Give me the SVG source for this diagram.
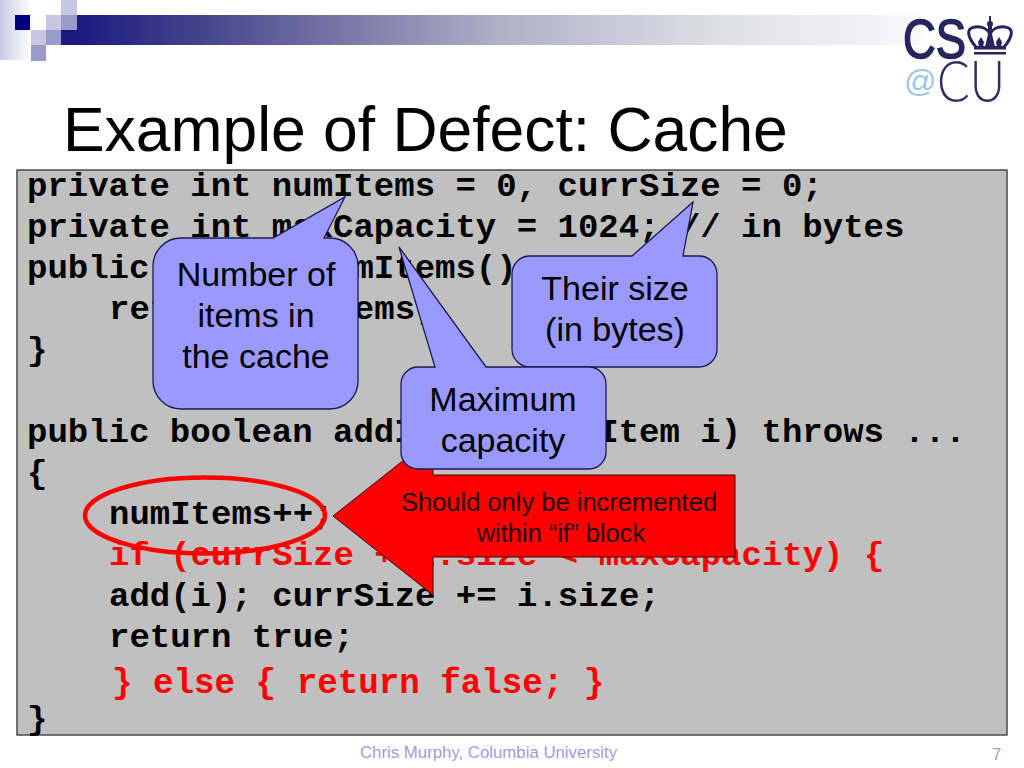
<svg xmlns="http://www.w3.org/2000/svg" width="1024" height="768" viewBox="0 0 1024 768">
<style>
.code{font-family:"Liberation Mono",monospace;font-weight:bold;font-size:34px;fill:#000;white-space:pre}
.red{fill:#f00}
.sans{font-family:"Liberation Sans",Arial,sans-serif}
.call{fill:#9999ff;stroke:#1a1a50;stroke-width:1.3}
.ct{font-family:"Liberation Sans",Arial,sans-serif;font-size:34px;fill:#000;text-anchor:middle}
.rt{font-family:"Liberation Sans",Arial,sans-serif;font-size:25.5px;fill:#200000;text-anchor:middle}
.foot{font-family:"Liberation Sans",Arial,sans-serif;font-size:16.8px;fill:#9c9cdc}
.ink{fill:#25255f}
</style>
<defs>
<linearGradient id="band" gradientUnits="userSpaceOnUse" x1="76" x2="925" y1="0" y2="0"><stop offset="0" stop-color="#1a1a80"/><stop offset="0.15" stop-color="#45458c"/><stop offset="0.27" stop-color="#6a6aa0"/><stop offset="0.5" stop-color="#b0b0c8"/><stop offset="0.74" stop-color="#dcdce4"/><stop offset="1" stop-color="#f9f9fb"/></linearGradient>
<linearGradient id="left" x1="0" x2="1" y1="0" y2="0"><stop offset="0" stop-color="#c9cae4"/><stop offset="1" stop-color="#ffffff"/></linearGradient>
</defs>
<rect width="1024" height="768" fill="#fff"/>
<g id="header">
<rect x="0" y="0" width="31" height="60" fill="url(#left)"/>
<rect x="61" y="15" width="860" height="30" fill="url(#band)"/>
<rect x="15" y="15" width="15" height="15" fill="#00007f"/>
<rect x="46" y="15" width="15" height="15" fill="#c6c7e2"/>
<rect x="61" y="0" width="16" height="15" fill="#c6c7e2"/>
<rect x="61" y="15" width="16" height="15" fill="#9a9bcd"/>
<rect x="31" y="30" width="15" height="15" fill="#c6c7e2"/>
<rect x="46" y="30" width="15" height="15" fill="#9a9bcd"/>
<rect x="31" y="45" width="15" height="16" fill="#9a9bcd"/>
</g>
<g id="logo">
<text class="sans ink" x="903" y="58" font-size="56" stroke="#25255f" stroke-width="1.6" textLength="63" lengthAdjust="spacingAndGlyphs">CS</text>
<path d="M976 47C968 38 965 28 975 27C983 26 988 30 990 34C992 30 997 26 1005 27C1015 28 1012 38 1004 47" fill="none" stroke="#25255f" stroke-width="3"/>
<rect class="ink" x="989" y="16" width="2" height="6"/>
<circle class="ink" cx="990" cy="24" r="3"/>
<path class="ink" d="M988 25H992V34L995 47H985L988 34Z"/>
<path class="ink" d="M981 37L984 42L983 47H979L978 42ZM999 37L1002 42L1001 47H997L996 42Z"/>
<rect class="ink" x="974" y="46" width="32" height="3.5"/>
<rect class="ink" x="974" y="52" width="32" height="2.5"/>
<text class="sans" x="904" y="92" font-size="32" fill="#9cc6ea">@</text>
<text x="937" y="102" font-family="Lato,'Liberation Sans',sans-serif" font-weight="300" font-size="57" fill="#303060" textLength="68" lengthAdjust="spacingAndGlyphs">CU</text>
</g>
<text id="title" class="sans" x="63" y="151" font-size="62.4" fill="#000">Example of Defect: Cache</text>
<g id="code">
<rect x="17" y="170" width="990" height="565" fill="#c0c0c0" stroke="#333" stroke-width="1.3"/>
<text class="code" x="27" y="196">private int numItems = 0, currSize = 0;</text>
<text class="code" x="27" y="237">private int maxCapacity = 1024; // in bytes</text>
<text class="code" x="27" y="278">public int getNumItems()</text>
<text class="code" x="109" y="319">return numItems;</text>
<text class="code" x="27" y="360">}</text>
<text class="code" x="27" y="442">public boolean addItem(CacheItem i) throws ...</text>
<text class="code" x="27" y="483">{</text>
<text class="code" x="109" y="524">numItems++;</text>
<text class="code red" x="109" y="565">if (currSize + i.size &lt; maxCapacity) {</text>
<text class="code" x="109" y="606">add(i); currSize += i.size;</text>
<text class="code" x="109" y="647">return true;</text>
<text class="code red" x="112" y="693" style="font-size:34.2px">} else { return false; }</text>
<text class="code" x="27" y="729">}</text>
</g>
<g id="highlight"><ellipse cx="205" cy="515.5" rx="120" ry="38" fill="none" stroke="#f00" stroke-width="4.5"/></g>
<g id="arrow-note">
<path d="M333 516L433 437V475H735V557H433V595Z" fill="#f00" stroke="#400" stroke-width="1"/>
<text class="rt" x="559" y="511">Should only be incremented</text>
<text class="rt" x="561" y="542">within “if” block</text>
</g>
<g id="callout-items">
<path class="call" d="M181 238H273L345 197L324 238H330A28 28 0 0 1 358 266V381A28 28 0 0 1 330 409H181A28 28 0 0 1 153 381V266A28 28 0 0 1 181 238Z"/>
<text class="ct" x="256" y="286">Number of</text><text class="ct" x="256" y="327">items in</text><text class="ct" x="256" y="368">the cache</text>
</g>
<g id="callout-size">
<path class="call" d="M530 256H632L693 202L683 256H699A18 18 0 0 1 717 274V349A18 18 0 0 1 699 367H530A18 18 0 0 1 512 349V274A18 18 0 0 1 530 256Z"/>
<text class="ct" x="615" y="300">Their size</text><text class="ct" x="615" y="341">(in bytes)</text>
</g>
<g id="callout-capacity">
<path class="call" d="M418 367H435L399 247L486 367H589A17 17 0 0 1 606 384V452A17 17 0 0 1 589 469H418A17 17 0 0 1 401 452V384A17 17 0 0 1 418 367Z"/>
<text class="ct" x="503" y="411">Maximum</text><text class="ct" x="503" y="452">capacity</text>
</g>
<g id="footer">
<text class="foot" x="360" y="758">Chris Murphy, Columbia University</text>
<text class="foot" x="992" y="760">7</text>
</g>
</svg>
